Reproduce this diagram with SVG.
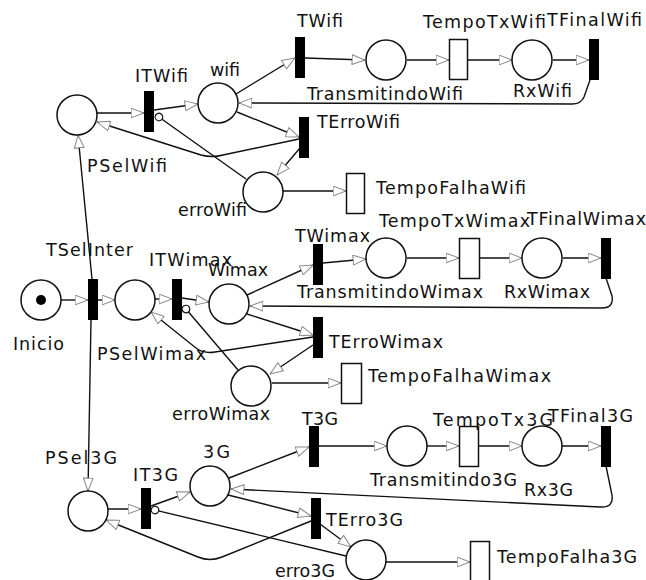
<svg xmlns="http://www.w3.org/2000/svg" width="646" height="580" viewBox="0 0 646 580">
  <style>
    .p { fill: #fff; stroke: #111; stroke-width: 1.5; }
    .tok { fill: #000; }
    .t { fill: #000; stroke: #000; stroke-width: 1; }
    .tt { fill: #fff; stroke: #111; stroke-width: 1.5; }
    .lbl { font-family: "DejaVu Sans", "Liberation Sans", sans-serif; font-size: 17.5px; fill: #111; }
    .arc { fill: none; stroke: #111; stroke-width: 1.4; marker-end: url(#ah); }
    .inh { fill: none; stroke: #111; stroke-width: 1.4; marker-end: url(#ih); }
  </style>
  <defs>
    <marker id="ah" viewBox="0 0 14 11" refX="13.5" refY="5.5" markerWidth="14" markerHeight="11" markerUnits="userSpaceOnUse" orient="auto">
      <path d="M0.6,0.6 L13.4,5.5 L0.6,10.4 Z" fill="#fff" stroke="#888" stroke-width="1"/>
    </marker>
    <marker id="ih" viewBox="0 0 10 10" refX="9" refY="5" markerWidth="10" markerHeight="10" markerUnits="userSpaceOnUse" orient="auto">
      <circle cx="5" cy="5" r="3.8" fill="#fff" stroke="#111" stroke-width="1.2"/>
    </marker>
  </defs>
  <rect width="646" height="580" fill="#fff"/>

  <!-- arcs -->
  <g id="connectors">
    <!-- wifi branch -->
    <path class="arc" d="M97,113 L144,113"/>
    <path class="arc" d="M154,110 L198,104"/>
    <path class="arc" d="M236,94 L295,58"/>
    <path class="arc" d="M305,58 L365,60"/>
    <path class="arc" d="M407,60 L449,60"/>
    <path class="arc" d="M468,60 L512,60"/>
    <path class="arc" d="M553,60 L589,60"/>
    <path class="arc" d="M590,80 L584,97 Q581,104 572,104 L239,103"/>
    <path class="arc" d="M237,112 L299,137"/>
    <path class="arc" d="M300,148 L277,175"/>
    <path class="arc" d="M299,139 L223,155 Q212,158 201,155 L97,122"/>
    <path class="inh" d="M246,179 L155.7,114.7"/>
    <path class="arc" d="M283,191 L346,191"/>
    <path class="arc" d="M92,279 L78,135"/>
    <!-- wimax branch -->
    <path class="arc" d="M61,300 L88,300"/>
    <path class="arc" d="M98,300 L115,300"/>
    <path class="arc" d="M91,320 L88,491"/>
    <path class="arc" d="M155,299 L172,299"/>
    <path class="arc" d="M182,298 L209,302"/>
    <path class="arc" d="M247,295 L313,265"/>
    <path class="arc" d="M323,263 L366,259"/>
    <path class="arc" d="M407,258 L459,258"/>
    <path class="arc" d="M480,258 L522,258"/>
    <path class="arc" d="M563,258 L601,258"/>
    <path class="arc" d="M606,278 L612,296 Q614,308 602,308 L250,306"/>
    <path class="arc" d="M247,314 L313,335"/>
    <path class="arc" d="M313,345 L270,374"/>
    <path class="arc" d="M313,337 L215,352 Q204,354 196,348 L151,312"/>
    <path class="inh" d="M238,370 L183.4,306"/>
    <path class="arc" d="M272,383 L341,383"/>
    <!-- 3G branch -->
    <path class="arc" d="M108,509 L141,509"/>
    <path class="arc" d="M151,506 L190,492"/>
    <path class="arc" d="M229,478 L309,447"/>
    <path class="arc" d="M319,446 L387,446"/>
    <path class="arc" d="M427,446 L459,446"/>
    <path class="arc" d="M479,446 L522,446"/>
    <path class="arc" d="M562,446 L601,446"/>
    <path class="arc" d="M606,466 L612,495 Q614,508 600,507 L231,489"/>
    <path class="arc" d="M228,495 L311,516"/>
    <path class="arc" d="M320,524 L351,547"/>
    <path class="arc" d="M311,521 L222,557 Q210,562 198,557 L106,520"/>
    <path class="inh" d="M346,556 L151.1,509.1"/>
    <path class="arc" d="M386,562 L470,562"/>
  </g>

  <!-- places -->
  <g id="PSelWifi"><circle class="p" cx="77" cy="115" r="20"/><text class="lbl" x="87" y="172" textLength="80" lengthAdjust="spacing">PSelWifi</text></g>
  <g id="wifi"><circle class="p" cx="218" cy="103" r="20"/><text class="lbl" x="210" y="76" textLength="30" lengthAdjust="spacing">wifi</text></g>
  <g id="erroWifi"><circle class="p" cx="263" cy="192" r="20"/><text class="lbl" x="178" y="216" textLength="69" lengthAdjust="spacing">erroWifi</text></g>
  <g id="TransmitindoWifi"><circle class="p" cx="386" cy="60" r="20"/><text class="lbl" x="307" y="100" textLength="156" lengthAdjust="spacing">TransmitindoWifi</text></g>
  <g id="RxWifi"><circle class="p" cx="532" cy="60" r="20"/><text class="lbl" x="513" y="97" textLength="59" lengthAdjust="spacing">RxWifi</text></g>

  <g id="Inicio"><circle class="p" cx="41" cy="300" r="20"/><circle class="tok" cx="41" cy="300" r="5"/><text class="lbl" x="13" y="350" textLength="51" lengthAdjust="spacing">Inicio</text></g>
  <g id="PSelWimax"><circle class="p" cx="135" cy="300" r="20"/><text class="lbl" x="97" y="360" textLength="109" lengthAdjust="spacing">PSelWimax</text></g>
  <g id="Wimax"><circle class="p" cx="229" cy="304" r="20"/><text class="lbl" x="208" y="276" textLength="60" lengthAdjust="spacing">Wimax</text></g>
  <g id="erroWimax"><circle class="p" cx="251" cy="386" r="20"/><text class="lbl" x="172" y="420" textLength="98" lengthAdjust="spacing">erroWimax</text></g>
  <g id="TransmitindoWimax"><circle class="p" cx="386" cy="258" r="20"/><text class="lbl" x="297" y="298" textLength="186" lengthAdjust="spacing">TransmitindoWimax</text></g>
  <g id="RxWimax"><circle class="p" cx="542" cy="258" r="20"/><text class="lbl" x="504" y="298" textLength="86" lengthAdjust="spacing">RxWimax</text></g>

  <g id="PSel3G"><circle class="p" cx="88" cy="511" r="20"/><text class="lbl" x="45" y="464" textLength="72" lengthAdjust="spacing">PSel3G</text></g>
  <g id="P3G"><circle class="p" cx="210" cy="486" r="20"/><text class="lbl" x="203" y="458" textLength="27" lengthAdjust="spacing">3G</text></g>
  <g id="erro3G"><circle class="p" cx="366" cy="560" r="20"/><text class="lbl" x="275" y="577" textLength="60" lengthAdjust="spacing">erro3G</text></g>
  <g id="Transmitindo3G"><circle class="p" cx="407" cy="446" r="20"/><text class="lbl" x="370" y="486" textLength="147" lengthAdjust="spacing">Transmitindo3G</text></g>
  <g id="Rx3G"><circle class="p" cx="542" cy="446" r="20"/><text class="lbl" x="524" y="496" textLength="49" lengthAdjust="spacing">Rx3G</text></g>

  <!-- immediate transitions -->
  <g id="ITWifi"><rect class="t" x="144.5" y="91.5" width="9" height="40"/><text class="lbl" x="135" y="82" textLength="53" lengthAdjust="spacing">ITWifi</text></g>
  <g id="TWifi"><rect class="t" x="295.5" y="37.5" width="9" height="40"/><text class="lbl" x="297" y="27" textLength="46" lengthAdjust="spacing">TWifi</text></g>
  <g id="TErroWifi"><rect class="t" x="299.5" y="117.5" width="9" height="40"/><text class="lbl" x="317" y="128" textLength="83" lengthAdjust="spacing">TErroWifi</text></g>
  <g id="TFinalWifi"><rect class="t" x="589.5" y="39.5" width="9" height="40"/><text class="lbl" x="547" y="26" textLength="95" lengthAdjust="spacing">TFinalWifi</text></g>

  <g id="TSelInter"><rect class="t" x="88.5" y="279.5" width="9" height="40"/><text class="lbl" x="46" y="256" textLength="87" lengthAdjust="spacing">TSelInter</text></g>
  <g id="ITWimax"><rect class="t" x="172.5" y="279.5" width="9" height="40"/><text class="lbl" x="149" y="266" textLength="83" lengthAdjust="spacing">ITWimax</text></g>
  <g id="TWimax"><rect class="t" x="313.5" y="244.5" width="9" height="40"/><text class="lbl" x="295" y="242" textLength="75" lengthAdjust="spacing">TWimax</text></g>
  <g id="TErroWimax"><rect class="t" x="313.5" y="317.5" width="9" height="40"/><text class="lbl" x="329" y="348" textLength="114" lengthAdjust="spacing">TErroWimax</text></g>
  <g id="TFinalWimax"><rect class="t" x="601.5" y="238.5" width="9" height="40"/><text class="lbl" x="527" y="225" textLength="119" lengthAdjust="spacing">TFinalWimax</text></g>

  <g id="IT3G"><rect class="t" x="141.5" y="488.5" width="9" height="40"/><text class="lbl" x="133" y="481" textLength="45" lengthAdjust="spacing">IT3G</text></g>
  <g id="T3G"><rect class="t" x="309.5" y="426.5" width="9" height="40"/><text class="lbl" x="302" y="425" textLength="36" lengthAdjust="spacing">T3G</text></g>
  <g id="TErro3G"><rect class="t" x="311.5" y="498.5" width="9" height="40"/><text class="lbl" x="326" y="526" textLength="77" lengthAdjust="spacing">TErro3G</text></g>
  <g id="TFinal3G"><rect class="t" x="601.5" y="426.5" width="9" height="40"/><text class="lbl" x="548" y="422" textLength="85" lengthAdjust="spacing">TFinal3G</text></g>

  <!-- timed transitions -->
  <g id="TempoTxWifi"><rect class="tt" x="449.5" y="39.5" width="18" height="40"/><text class="lbl" x="423" y="28" textLength="123" lengthAdjust="spacing">TempoTxWifi</text></g>
  <g id="TempoFalhaWifi"><rect class="tt" x="346.5" y="173.5" width="18" height="40"/><text class="lbl" x="376" y="194" textLength="150" lengthAdjust="spacing">TempoFalhaWifi</text></g>
  <g id="TempoTxWimax"><rect class="tt" x="459.5" y="238.5" width="20" height="40"/><text class="lbl" x="379" y="227" textLength="151" lengthAdjust="spacing">TempoTxWimax</text></g>
  <g id="TempoFalhaWimax"><rect class="tt" x="341.5" y="363.5" width="20" height="40"/><text class="lbl" x="368" y="382" textLength="183" lengthAdjust="spacing">TempoFalhaWimax</text></g>
  <g id="TempoTx3G"><rect class="tt" x="459.5" y="426.5" width="19" height="40"/><text class="lbl" x="433" y="426" textLength="120" lengthAdjust="spacing">TempoTx3G</text></g>
  <g id="TempoFalha3G"><rect class="tt" x="470.5" y="541.5" width="19" height="40"/><text class="lbl" x="497" y="563" textLength="140" lengthAdjust="spacing">TempoFalha3G</text></g>
</svg>
